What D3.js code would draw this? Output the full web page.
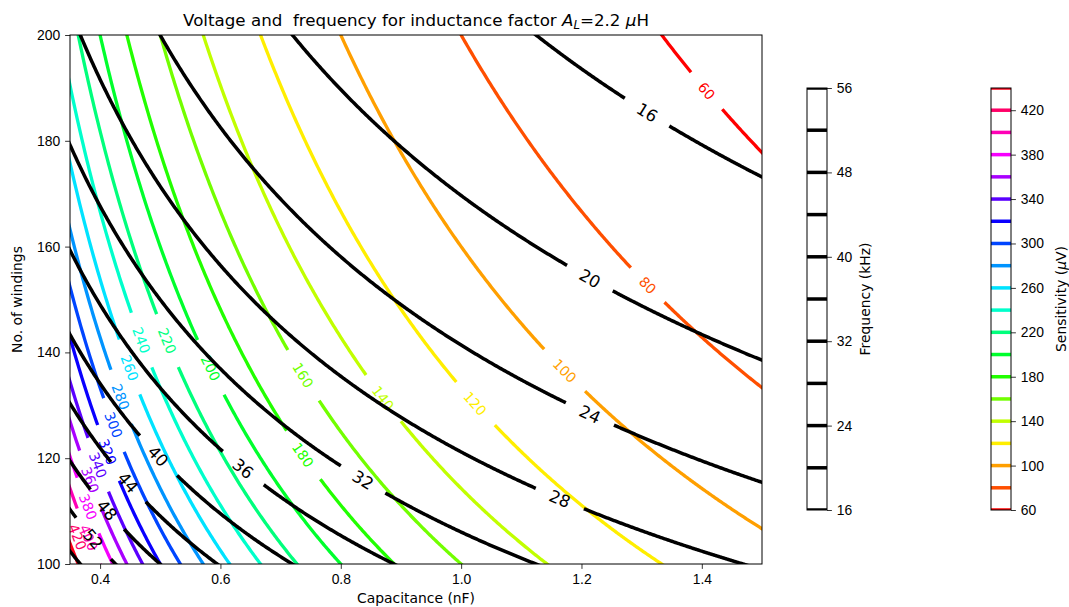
<!DOCTYPE html>
<html>
<head>
<meta charset="utf-8">
<script src="https://cdnjs.cloudflare.com/ajax/libs/d3/7.8.5/d3.min.js"></script>
<style>
  body { margin: 0; background: #fff; }
  svg { display: block; font-family: "DejaVu Sans", sans-serif; }
  .tick text { font-size: 13.9px; fill: #000; }
  .tick line { stroke: #000; stroke-width: 0.8; }
  .domain { display: none; }
</style>
</head>
<body>
<div class="chart"></div>
<script>
// contour levels
var freqLevels = [16, 20, 24, 28, 32, 36, 40, 44, 48, 52, 56];       // kHz
var sensLevels = [60, 80, 100, 120, 140, 160, 180, 200, 220, 240, 260, 280, 300, 320, 340, 360, 380, 400, 420, 440]; // uV
var freqTicks = [16, 24, 32, 40, 48, 56];
var sensTicks = [60, 100, 140, 180, 220, 260, 300, 340, 380, 420];
var xTicks = [0.4, 0.6, 0.8, 1.0, 1.2, 1.4];
var yTicks = [100, 120, 140, 160, 180, 200];

// capacitance (nF) where each inline label sits, null = no label
var freqLabelC = [1.309, 1.214, 1.214, 1.164, 0.837, 0.6375, 0.4963, 0.4465, 0.4116, 0.3884, null];
var sensLabelC = [1.408, 1.310, 1.172, 1.023, 0.870, 0.737, 0.737, 0.5837, 0.5115, 0.4685, 0.449, 0.4342, 0.4223, 0.4125, 0.3964, 0.3835, 0.380, 0.381, 0.3625, null];

var AL = 2.2e-6;      // inductance factor, H per winding^2
var KSENS = 16000;    // sensitivity constant, uV * nF * windings

// windings for a given frequency (kHz) and capacitance (nF)
function nForFreq(f, c) {
  return 1 / (2 * Math.PI * f * 1e3 * Math.sqrt(AL * c * 1e-9));
}
function nForSens(s, c) {
  return KSENS / (s * c);
}

// matplotlib 'hsv' colormap
var hsvR = d3.scaleLinear().domain([0, 0.15873, 0.174603, 0.333333, 0.349206, 0.666667, 0.68254, 0.84127, 0.857143, 1])
  .range([1, 1, 0.96875, 0.03125, 0, 0, 0.03125, 0.96875, 1, 1]).clamp(true);
var hsvG = d3.scaleLinear().domain([0, 0.15873, 0.174603, 0.507937, 0.666667, 0.68254, 1])
  .range([0, 0.9375, 1, 1, 0.0625, 0, 0]).clamp(true);
var hsvB = d3.scaleLinear().domain([0, 0.333333, 0.349206, 0.507937, 0.84127, 0.857143, 1])
  .range([0, 0, 0.0625, 1, 1, 0.9375, 0.09375]).clamp(true);
function hsv(t) {
  return d3.rgb(hsvR(t) * 255, hsvG(t) * 255, hsvB(t) * 255).formatHex();
}
var sensNorm = d3.scaleLinear().domain([sensLevels[0], sensLevels[sensLevels.length - 1]]).range([0, 1]);

var W = 1069, H = 607;
var plot = {left: 70, right: 762, top: 35, bottom: 564};

var x = d3.scaleLinear().domain([0.35, 1.5]).range([plot.left, plot.right]);
var y = d3.scaleLinear().domain([100, 200]).range([plot.bottom, plot.top]);

var svg = d3.select('.chart')
  .append('svg')
  .attr('width', W)
  .attr('height', H);

svg.append('rect').attr('width', W).attr('height', H).attr('fill', '#fff');

svg.append('clipPath').attr('id', 'plotclip')
  .append('rect')
  .attr('x', plot.left).attr('y', plot.top)
  .attr('width', plot.right - plot.left).attr('height', plot.bottom - plot.top);

var cGrid = d3.range(0.30, 1.6, 0.002);

function drawContour(g, nFunc, level, labelC, color, lw, fontSize) {
  var pts = cGrid.map(function(c) { return [x(c), y(nFunc(level, c))]; });
  var lab = null, r = 0, angle = 0;
  if (labelC !== null) {
    lab = [x(labelC), y(nFunc(level, labelC))];
    var p2 = [x(labelC + 0.002), y(nFunc(level, labelC + 0.002))];
    angle = Math.atan2(p2[1] - lab[1], p2[0] - lab[0]) * 180 / Math.PI;
    if (angle > 90) angle -= 180;
    if (angle < -90) angle += 180;
    var txtW = String(level).length * 0.636 * fontSize;
    r = txtW / 2 + 15;
  }
  var line = d3.line()
    .defined(function(d) {
      if (!lab) return true;
      var dx = d[0] - lab[0], dy = d[1] - lab[1];
      return Math.sqrt(dx * dx + dy * dy) > r;
    });
  g.append('path')
    .attr('d', line(pts))
    .attr('fill', 'none')
    .attr('stroke', color)
    .attr('stroke-width', lw)
    .attr('clip-path', 'url(#plotclip)');
  if (lab) {
    g.append('text')
      .attr('transform', 'translate(' + lab[0] + ',' + lab[1] + ') rotate(' + angle + ')')
      .attr('text-anchor', 'middle')
      .attr('dy', '0.36em')
      .style('font-size', fontSize + 'px')
      .attr('fill', color)
      .text(level);
  }
}

var sensG = svg.append('g');
sensLevels.forEach(function(s, i) {
  drawContour(sensG, nForSens, s, sensLabelC[i], hsv(sensNorm(s)), 3.3, 13.9);
});
var freqG = svg.append('g');
freqLevels.forEach(function(f, i) {
  drawContour(freqG, nForFreq, f, freqLabelC[i], '#000', 3.5, 16.7);
});

// axes
svg.append('g')
  .attr('transform', 'translate(0,' + plot.bottom + ')')
  .call(d3.axisBottom(x).tickValues(xTicks).tickFormat(d3.format('.1f')).tickSizeOuter(0).tickSize(4.9).tickPadding(4.9));
svg.append('g')
  .attr('transform', 'translate(' + plot.left + ',0)')
  .call(d3.axisLeft(y).tickValues(yTicks).tickSizeOuter(0).tickSize(4.9).tickPadding(4.9));

svg.append('rect')
  .attr('x', plot.left).attr('y', plot.top)
  .attr('width', plot.right - plot.left).attr('height', plot.bottom - plot.top)
  .attr('fill', 'none').attr('stroke', '#000').attr('stroke-width', 1);

svg.append('text')
  .attr('x', (plot.left + plot.right) / 2).attr('y', 603)
  .attr('text-anchor', 'middle').style('font-size', '13.9px')
  .text('Capacitance (nF)');
svg.append('text')
  .attr('transform', 'translate(22,' + (plot.top + plot.bottom) / 2 + ') rotate(-90)')
  .attr('text-anchor', 'middle').style('font-size', '13.9px')
  .text('No. of windings');

var title = svg.append('text')
  .attr('x', (plot.left + plot.right) / 2).attr('y', 26)
  .attr('text-anchor', 'middle').style('font-size', '16.7px')
  .attr('xml:space', 'preserve');
title.append('tspan').text('Voltage and  frequency for inductance factor ');
title.append('tspan').style('font-style', 'italic').text('A');
title.append('tspan').style('font-style', 'italic').style('font-size', '11.7px').attr('dy', 3).text('L');
title.append('tspan').attr('dy', -3).text('=2.2 ');
title.append('tspan').style('font-style', 'italic').text('\u03bc');
title.append('tspan').text('H');

// colorbars
function colorbar(x0, levels, ticks, colorFn, label, labelX, italicMu) {
  var cb = {left: x0, right: x0 + 20, top: 88, bottom: 510};
  var s = d3.scaleLinear().domain([levels[0], levels[levels.length - 1]]).range([cb.bottom, cb.top]);
  var id = 'cbclip' + x0;
  svg.append('clipPath').attr('id', id)
    .append('rect').attr('x', cb.left).attr('y', cb.top)
    .attr('width', cb.right - cb.left).attr('height', cb.bottom - cb.top);
  var g = svg.append('g');
  g.selectAll('line.lev')
    .data(levels)
    .enter()
    .append('line')
    .attr('class', 'lev')
    .attr('x1', cb.left).attr('x2', cb.right)
    .attr('y1', function(d) { return s(d); })
    .attr('y2', function(d) { return s(d); })
    .attr('stroke', function(d) { return colorFn(d); })
    .attr('stroke-width', 3.5)
    .attr('clip-path', 'url(#' + id + ')');
  g.append('rect')
    .attr('x', cb.left).attr('y', cb.top)
    .attr('width', cb.right - cb.left).attr('height', cb.bottom - cb.top)
    .attr('fill', 'none').attr('stroke', '#000').attr('stroke-width', 1);
  svg.append('g')
    .attr('transform', 'translate(' + cb.right + ',0)')
    .call(d3.axisRight(s).tickValues(ticks).tickSizeOuter(0).tickSize(4.9).tickPadding(4.9));
  var t = svg.append('text')
    .attr('transform', 'translate(' + labelX + ',' + (cb.top + cb.bottom) / 2 + ') rotate(-90)')
    .attr('text-anchor', 'middle').style('font-size', '13.9px');
  if (italicMu) {
    t.append('tspan').text(label + ' (');
    t.append('tspan').style('font-style', 'italic').text('\u03bc');
    t.append('tspan').text('V)');
  } else {
    t.text(label);
  }
}

colorbar(807, freqLevels, freqTicks, function() { return '#000'; }, 'Frequency (kHz)', 870, false);
colorbar(991, sensLevels, sensTicks, function(d) { return hsv(sensNorm(d)); }, 'Sensitivity', 1066, true);
</script>
</body>
</html>
